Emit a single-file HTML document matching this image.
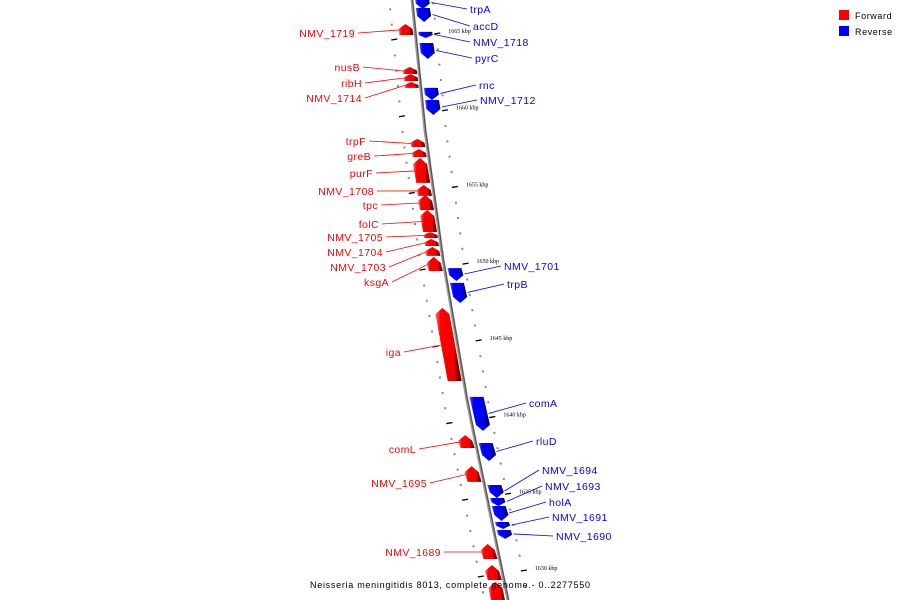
<!DOCTYPE html>
<html><head><meta charset="utf-8"><style>
html,body{margin:0;padding:0;background:#fff;}
svg{display:block;font-family:"Liberation Sans",sans-serif;}
</style></head><body>
<svg id="map" width="900" height="600" viewBox="0 0 900 600">
<defs>
<linearGradient id="gr" x1="0" x2="1" y1="0" y2="0"><stop offset="0" stop-color="#ff7a7a"/><stop offset="0.2" stop-color="#ff0000"/><stop offset="0.74" stop-color="#ee0000"/><stop offset="0.76" stop-color="#a00000"/><stop offset="1" stop-color="#700000"/></linearGradient>
<linearGradient id="gb" x1="0" x2="1" y1="0" y2="0"><stop offset="0" stop-color="#5a5aff"/><stop offset="0.2" stop-color="#0000ff"/><stop offset="0.74" stop-color="#0000ee"/><stop offset="0.76" stop-color="#0000a0"/><stop offset="1" stop-color="#000070"/></linearGradient>
</defs>
<g id="axis"></g><g id="ticks"></g><g id="genes"></g><g id="labels"></g>
<g>
<rect x="839" y="10" width="10" height="10" fill="#f00"/>
<text x="855" y="19" font-size="9" letter-spacing="0.6" fill="#000">Forward</text>
<rect x="839" y="26" width="10" height="10" fill="#00f"/>
<text x="855" y="35" font-size="9" letter-spacing="0.6" fill="#000">Reverse</text>
</g>
<text x="310" y="588" font-size="9" letter-spacing="0.72" fill="#000">Neisseria meningitidis 8013, complete genome.- 0..2277550</text>
</svg>
<script>
// data (kbp)
const redNames = ["NMV_1719","nusB","ribH","NMV_1714","trpF","greB","purF","NMV_1708","tpc","folC","NMV_1705","NMV_1704","NMV_1703","ksgA","iga","comL","NMV_1695","NMV_1689","",""];
const redStart = [1665.52,1662.72,1662.26,1661.74,1658.03,1657.37,1656.79,1655.03,1654.38,1653.40,1651.96,1651.51,1650.99,1650.34,1647.01,1638.73,1636.71,1631.63,1630.26,1629.15];
const redEnd   = [1664.87,1662.33,1661.87,1661.42,1657.57,1656.92,1655.23,1654.38,1653.46,1652.03,1651.64,1651.12,1650.47,1649.49,1642.32,1637.95,1635.74,1630.72,1629.35,1627.72];
const blueNames = ["trpA","accD","NMV_1718","pyrC","rnc","NMV_1712","NMV_1701","trpB","comA","rluD","NMV_1694","NMV_1693","holA","NMV_1691","NMV_1690"];
const blueStart = [1667.35,1666.63,1665.07,1664.35,1661.42,1660.63,1649.68,1648.71,1641.28,1638.28,1635.54,1634.69,1634.17,1633.13,1632.61];
const blueEnd   = [1666.63,1665.78,1664.74,1663.37,1660.70,1659.72,1648.90,1647.47,1639.13,1637.17,1634.76,1634.24,1633.26,1632.74,1632.09];
const majorTicks = [1665,1660,1655,1650,1645,1640,1635,1630];
// layout (pixel positions of label centres, not data)
const redLabelY = [33,67,83,98,141,156,173,191,205,224,237,252,267,282,352,449,483,552];
const redLabelRight = [355,360,362,362,366,371,373,374,378,379,383,383,386,389,401,416,427,441];
const blueLabelY = [9,26,42,58,85,100,266,284,403,441,470,486,502,517,536];
const blueLabelLeft = [470,473,473,475,479,480,504,507,529,536,542,545,549,552,556];

const NS="http://www.w3.org/2000/svg";
function yOf(k){return 33+(1665-k)*15.343;}
const LP=[[0,412],[130,425],[260,443],[400,467],[440,475],[600,508]];
function xOf(y){
  if(y<=LP[0][0]) return LP[0][1]+(y-LP[0][0])*0.1;
  for(let i=1;i<LP.length;i++){if(y<=LP[i][0]){const a=LP[i-1],b=LP[i];return a[1]+(b[1]-a[1])*(y-a[0])/(b[0]-a[0]);}}
  return LP[LP.length-1][1];
}
function mk(tag,attrs,parent){const e=document.createElementNS(NS,tag);for(const k in attrs)e.setAttribute(k,attrs[k]);parent.appendChild(e);return e;}

const axis=document.getElementById('axis');
let d="M"+xOf(-5)+",-5";for(let y=0;y<=605;y+=5)d+=" L"+xOf(y).toFixed(1)+","+y;
const ax1=mk('path',{d:d,stroke:'#999',"stroke-width":3,fill:'none'},axis);


const ax2=mk('path',{d:d,stroke:'#555',"stroke-width":1.2,fill:'none',transform:'translate(0.6,0)'},axis);



const ticks=document.getElementById('ticks');
for(let k=1668;k>=1627;k--){
  const y=yOf(k);if(y<-5||y>605)continue;
  const x=xOf(y);
  const isMajor=majorTicks.indexOf(k)>=0;
  if(isMajor){
    const t1=mk('line',{x1:x+19,y1:y+1,x2:x+25,y2:y,stroke:'#000',"stroke-width":1.3},ticks);
    
    
    const t2=mk('line',{x1:x-24,y1:y+7,x2:x-18,y2:y+6,stroke:'#000',"stroke-width":1.3},ticks);
    
    
    const lb=mk('text',{x:x+33,y:y,"font-size":6,"font-family":"Liberation Serif,serif",fill:'#000'},ticks);
    lb.textContent=k+" kbp";
    
    
  }else{
    const r1=mk('rect',{x:x+20,y:y,width:2,height:2,fill:'#888'},ticks);
    
    
    const r2=mk('rect',{x:x-23,y:y+6,width:2,height:2,fill:'#888'},ticks);
    
    
  }
}

const genes=document.getElementById('genes'),labels=document.getElementById('labels');
function gene(y0,y1,side,fill){
  const w=14,h=y1-y0,tip=Math.min(5,h*0.4);
  const off=side<0?-2-w:3;
  const a=xOf(y0)+off,b=xOf(y1)+off;
  let pts;
  if(side<0){
    pts=[[a+w/2,y0-1],[a+w,y0+tip],[b+w,y1],[b,y1],[a,y0+tip]];
  }else{
    pts=[[a,y0],[a+w,y0],[b+w,y1-tip],[b+w/2,y1+1],[b,y1-tip]];
  }
  return mk('polygon',{points:pts.map(p=>p[0].toFixed(1)+","+p[1].toFixed(1)).join(" "),fill:fill},genes);
}
for(let i=0;i<redStart.length;i++){
  const y0=yOf(redStart[i]),y1=yOf(redEnd[i]);
  const g=gene(y0,y1,-1,'url(#gr)');
  
  
  if(i<redLabelY.length){
    const ym=(y0+y1)/2,gx=xOf(ym)-16;
    const ln=mk('line',{x1:redLabelRight[i]+3,y1:redLabelY[i],x2:gx,y2:ym,stroke:'#f00',"stroke-width":0.8},labels);
    
    
    const t=mk('text',{x:redLabelRight[i],y:redLabelY[i]+4,"text-anchor":"end","font-size":10.5,"letter-spacing":0.4,fill:'#f00'},labels);
    t.textContent=redNames[i];
    
    
  }
}
for(let i=0;i<blueStart.length;i++){
  const y0=yOf(blueStart[i]),y1=yOf(blueEnd[i]);
  const g=gene(y0,y1,1,'url(#gb)');
  
  
  const ym=(y0+y1)/2,gx=xOf(ym)+19;
  const ln=mk('line',{x1:gx,y1:ym,x2:blueLabelLeft[i]-3,y2:blueLabelY[i],stroke:'#00f',"stroke-width":0.8},labels);
  
  
  const t=mk('text',{x:blueLabelLeft[i],y:blueLabelY[i]+4,"font-size":10.5,"letter-spacing":0.4,fill:'#00f'},labels);
  t.textContent=blueNames[i];
  
  
}
</script>
</body></html>
